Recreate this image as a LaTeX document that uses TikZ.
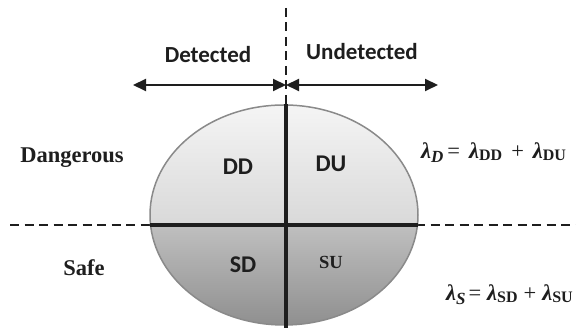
\documentclass[tikz,border=0pt]{standalone}
\usepackage{fontspec}
\setmainfont{Liberation Serif}
\newfontfamily\calib{Carlito}
\usetikzlibrary{arrows.meta}

\definecolor{ink}{HTML}{1E1E1E}
\definecolor{rim}{HTML}{8A8A8A}

\tikzset{
  guide/.style={draw=ink, line width=2pt, dash pattern=on 9pt off 5.5pt},
  divider/.style={draw=ink, line width=4pt},
  span/.style={draw=ink, line width=2pt, {Triangle[length=13pt,width=12pt]}-{Triangle[length=13pt,width=12pt]}},
  head/.style={font=\calib\bfseries\fontsize{23}{23}\selectfont, text=ink, inner sep=0pt},
  cell/.style={font=\calib\bfseries\fontsize{24}{24}\selectfont, text=ink, inner sep=0pt},
  cellserif/.style={font=\bfseries\fontsize{18.5}{18.5}\selectfont, text=ink, inner sep=0pt},
  side/.style={font=\bfseries\fontsize{22.5}{22.5}\selectfont, text=ink, inner sep=0pt},
  rate/.style={font=\fontsize{22.5}{22.5}\selectfont, text=ink, inner sep=0pt}
}

\newcommand{\lam}{{\bfseries\itshape λ}}
\newcommand{\subit}[1]{\raisebox{-4pt}{\fontsize{17}{17}\selectfont\bfseries\itshape #1}}
\newcommand{\subrm}[1]{\raisebox{-1.5pt}{\fontsize{16}{16}\selectfont\bfseries #1}}
% operator spacing: #1 before, #2 after
\newcommand{\opsp}[3]{\hspace{#1}#3\hspace{#2}}

\begin{document}
\begin{tikzpicture}[x=1pt,y=-1pt]
  \useasboundingbox[fill=white] (0,0) rectangle (576,328);

  % dashed guides
  \draw[guide] (286,8) -- (286,104);
  \draw[guide] (10,225) -- (576,225);

  % shaded ellipse: light upper half, darker lower half
  \begin{scope}
    \clip (284,215) ellipse [x radius=134, y radius=110];
    \shade[top color=black!4, bottom color=black!15] (150,104) rectangle (418,225);
    \shade[top color=black!25, bottom color=black!44] (150,225) rectangle (418,326);
  \end{scope}
  \draw[rim, line width=1.5pt] (284,215) ellipse [x radius=134, y radius=110];

  % quadrant dividers
  \coordinate (vtop) at (286,104);
  \coordinate (vbot) at (286,328);
  \coordinate (hl) at (150,225);
  \coordinate (hr) at (418,225);
  \draw[divider] (vtop) -- (vbot);
  \draw[divider] (hl) -- (hr);

  % detected / undetected spans
  \coordinate (lt) at (133,85);
  \coordinate (mid) at (286,85);
  \coordinate (rt) at (438,85);
  \draw[span] (lt) -- (mid);
  \draw[span] (mid) -- (rt);
  \node[head] (det) at (208,55) {Detected};
  \node[head] (undet) at (362,52) {Undetected};

  % quadrant labels
  \node[cell] (dd) at (238,167) {DD};
  \node[cell] (du) at (331,164) {DU};
  \node[cell] (sd) at (243,265) {SD};
  \node[cellserif] (su) at (331,262) {SU};

  % row labels
  \node[side] (dang) at (72,158) {Dangerous};
  \node[side] (safe) at (84,268) {Safe};

  % failure-rate sums
  \node[rate, anchor=west] (rd) at (421,153)
    {\lam\subit{D}\opsp{4pt}{9pt}{=}\lam\subrm{DD}\opsp{9pt}{9pt}{+}\lam\subrm{DU}};
  \node[rate, anchor=east] (rs) at (573,295)
    {\lam\subit{S}\opsp{3pt}{6pt}{=}\lam\subrm{SD}\opsp{6pt}{6pt}{+}\lam\subrm{SU}};
\end{tikzpicture}
\end{document}
